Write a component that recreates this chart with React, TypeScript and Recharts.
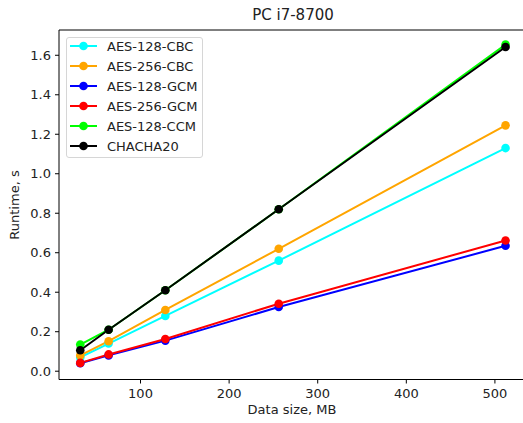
import React from 'react';
import { LineChart, Line, XAxis, YAxis, ReferenceLine } from 'recharts';

const dataSizes = [32, 64, 128, 256, 512];
const aes128cbc = [0.07, 0.14, 0.28, 0.56, 1.13];
const aes256cbc = [0.08, 0.152, 0.31, 0.62, 1.245];
const aes128gcm = [0.04, 0.08, 0.155, 0.325, 0.635];
const aes256gcm = [0.042, 0.085, 0.163, 0.342, 0.662];
const aes128ccm = [0.135, 0.21, 0.41, 0.82, 1.654];
const chacha20 = [0.106, 0.21, 0.41, 0.82, 1.642];

const seriesNames = ['AES-128-CBC', 'AES-256-CBC', 'AES-128-GCM', 'AES-256-GCM', 'AES-128-CCM', 'CHACHA20'];
const seriesValues = [aes128cbc, aes256cbc, aes128gcm, aes256gcm, aes128ccm, chacha20];
const seriesColors = ['#00ffff', '#ffa500', '#0000ff', '#ff0000', '#00ff00', '#000000'];

const xTicks = [100, 200, 300, 400, 500];
const yTicks = [0, 0.2, 0.4, 0.6, 0.8, 1.0, 1.2, 1.4, 1.6];

const X_MIN = 8;
const X_MAX = 531.7;
const Y_MIN = -0.042;
const Y_MAX = 1.728;

const data = dataSizes.map((size, i) => {
  const row: Record<string, number> = { size };
  seriesNames.forEach((name, s) => {
    row[name] = seriesValues[s][i];
  });
  return row;
});

const FONT = '"DejaVu Sans", sans-serif';
const TEXT_COLOR = '#222';

const LegendBox = () => (
  <div
    style={{
      position: 'absolute',
      left: 66,
      top: 37,
      width: 137,
      height: 121,
      border: '1px solid #d6d6d6',
      borderRadius: 3,
      background: 'rgba(255,255,255,0.85)',
      boxSizing: 'border-box',
    }}
  >
    <svg width={135} height={119} style={{ display: 'block' }}>
      {seriesNames.map((name, i) => {
        const cy = 8 + i * 20;
        return (
          <g key={name}>
            <line x1={3} x2={30} y1={cy} y2={cy} stroke={seriesColors[i]} strokeWidth={2} />
            <circle cx={16.5} cy={cy} r={4.3} fill={seriesColors[i]} />
            <text
              x={40}
              y={cy}
              dominantBaseline="central"
              fontFamily={FONT}
              fontSize={13}
              fill={TEXT_COLOR}
            >
              {name}
            </text>
          </g>
        );
      })}
    </svg>
  </div>
);

export default function App() {
  return (
    <div style={{ position: 'absolute', left: 0, top: 0, width: 523, height: 423, background: '#fff', overflow: 'hidden' }}>
      <LineChart
        width={523}
        height={423}
        data={data}
        margin={{ top: 30, right: 0, bottom: 0, left: 0 }}
        style={{ fontFamily: FONT }}
      >
        <XAxis
          dataKey="size"
          type="number"
          domain={[X_MIN, X_MAX]}
          allowDataOverflow
          ticks={xTicks}
          height={43.5}
          tickSize={4}
          tickMargin={5}
          stroke="#000"
          tick={{ fill: TEXT_COLOR, fontSize: 13, fontFamily: FONT }}
          axisLine={{ stroke: '#000', strokeWidth: 1 }}
          tickLine={{ stroke: '#000', strokeWidth: 1 }}
        />
        <YAxis
          type="number"
          domain={[Y_MIN, Y_MAX]}
          allowDataOverflow
          ticks={yTicks}
          width={59}
          tickSize={4}
          tickMargin={4}
          tickFormatter={(v: number) => v.toFixed(1)}
          tick={{ fill: TEXT_COLOR, fontSize: 13, fontFamily: FONT }}
          axisLine={{ stroke: '#000', strokeWidth: 1 }}
          tickLine={{ stroke: '#000', strokeWidth: 1 }}
        />
        <ReferenceLine y={Y_MAX} stroke="#000" strokeWidth={1} />
        {seriesNames.map((name, i) => (
          <Line
            key={name}
            dataKey={name}
            name={name}
            stroke={seriesColors[i]}
            strokeWidth={2}
            dot={{ r: 4.3, fill: seriesColors[i], stroke: seriesColors[i], strokeWidth: 0 }}
            activeDot={false}
            isAnimationActive={false}
          />
        ))}
      </LineChart>
      <LegendBox />
      <div
        style={{
          position: 'absolute',
          left: 193,
          width: 200,
          top: 5,
          textAlign: 'center',
          fontFamily: FONT,
          fontSize: 15,
          color: TEXT_COLOR,
          lineHeight: '20px',
        }}
      >
        PC i7-8700
      </div>
      <div
        style={{
          position: 'absolute',
          left: 192,
          width: 200,
          top: 401,
          textAlign: 'center',
          fontFamily: FONT,
          fontSize: 13,
          color: TEXT_COLOR,
          lineHeight: '18px',
        }}
      >
        Data size, MB
      </div>
      <div
        style={{
          position: 'absolute',
          left: 15 - 60,
          top: 205 - 9,
          width: 120,
          textAlign: 'center',
          fontFamily: FONT,
          fontSize: 13,
          color: TEXT_COLOR,
          lineHeight: '18px',
          transform: 'rotate(-90deg)',
        }}
      >
        Runtime, s
      </div>
    </div>
  );
}
